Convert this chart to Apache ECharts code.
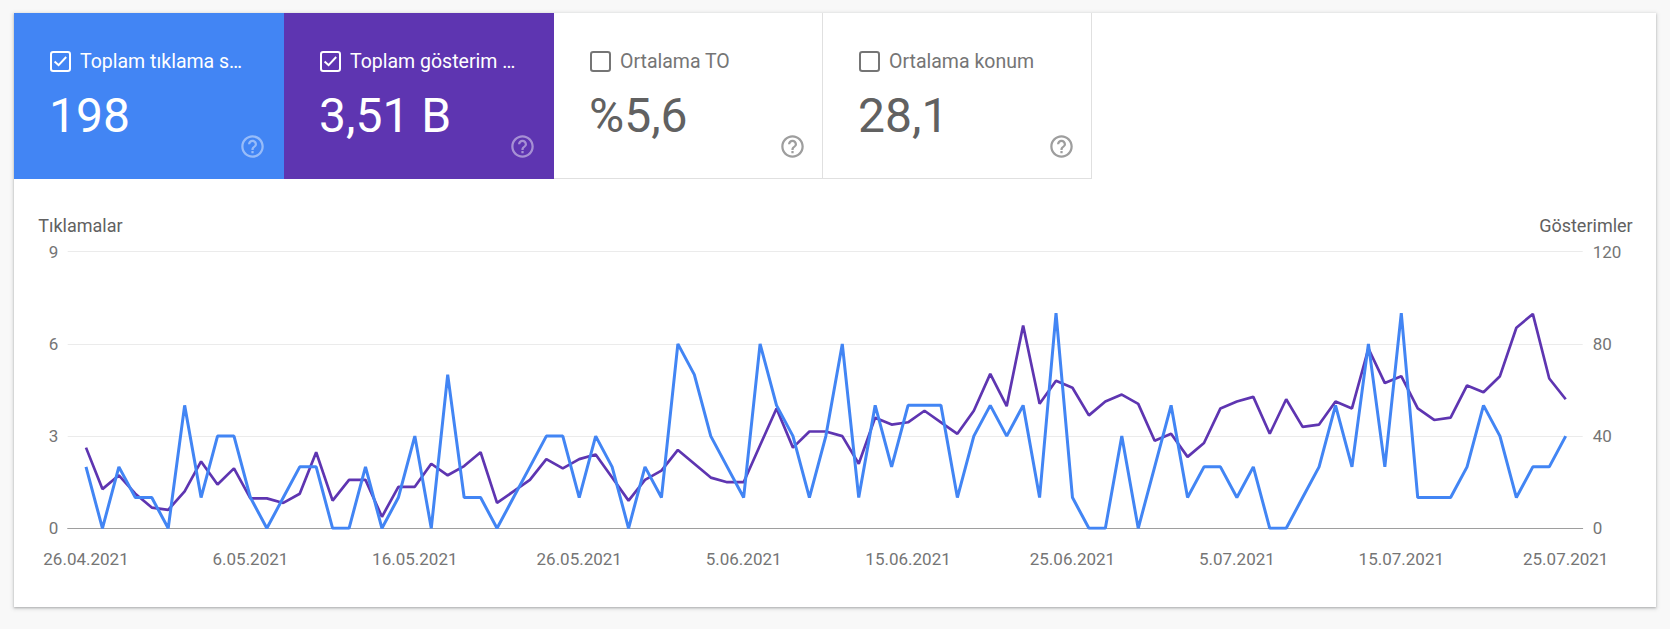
<!DOCTYPE html>
<html>
<head>
<meta charset="utf-8">
<script src="https://cdn.jsdelivr.net/npm/echarts@6/dist/echarts.min.js"></script>
<style>
  html, body { margin:0; padding:0; background:#f8f8f8; width:1670px; height:629px; overflow:hidden; font-family:Roboto, "Noto Sans", sans-serif; }
  #card { position:absolute; left:14px; top:13px; width:1642px; height:594px; background:#fff;
          box-shadow:0 1px 2px 0 rgba(60,64,67,.3), 0 1px 4px 1px rgba(60,64,67,.15); }
  .tile { position:absolute; top:13px; height:166px; box-sizing:border-box; }
  .tile .lbl { position:absolute; left:66px; top:39.25px; font-size:19.5px; line-height:19.5px; white-space:nowrap; }
  .tile .num { position:absolute; left:35px; top:78.5px; font-size:48px; line-height:48px; white-space:nowrap; }
  .tile svg.cb { position:absolute; left:36px; top:38px; width:21px; height:21px; }
  .tile svg.q { position:absolute; left:224.8px; top:120px; width:27px; height:27px; }
  #chart { position:absolute; left:0; top:0; width:1670px; height:629px; }
</style>
</head>
<body>
<div id="card"></div>
<div id="tiles"></div>
<div id="chart"></div>
<script>
// ---- data ----
const startDate = [2021, 3, 26]; // 26.04.2021 (month index 3 = April)
const dayCount = 91;
const tickIndices = [0, 10, 20, 30, 40, 50, 60, 70, 80, 90];
const clicks = [2,0,2,1,1,0,4,1,3,3,1,0,1,2,2,0,0,2,0,1,3,
                0,5,1,1,0,1,2,3,3,1,3,2,0,2,1,6,5,3,2,1,6,4,3,
                1,3,6,1,4,2,4,4,4,1,3,4,3,4,1,7,1,0,0,3,0,2,4,
                1,2,2,1,2,0,0,1,2,4,2,6,2,7,
                1,1,1,2,4,3,1,2,2,3];
const impressions = [35,17,23,15,9,8,16,29,19,26,13,13,11,15,33,12,21,21,5,18,18,
                     28,23,27,33,11,16,21,30,26,30,32,22,12,21,25,34,28,22,20,20,36,52,35,
                     42,42,40,28,48,45,46,51,46,41,51,67,53,88,54,64,61,49,55,58,54,38,41,
                     31,37,52,55,57,41,56,44,45,55,52,78,63,66,52,47,48,62,59,66,87,93,65,56];
const leftTicks = [0, 3, 6, 9];
const rightTicks = [0, 40, 80, 120];
const tileLabels = ['Toplam tıklama s…', 'Toplam gösterim …', 'Ortalama TO', 'Ortalama konum'];
const tileValues = ['198', '3,51 B', '%5,6', '28,1'];
const tileChecked = [true, true, false, false];
const axisNames = ['Tıklamalar', 'Gösterimler'];

// date labels
const dateLabels = [];
for (let i = 0; i < dayCount; i++) {
  const d = new Date(startDate[0], startDate[1], startDate[2] + i);
  dateLabels.push(d.getDate() + '.' + String(d.getMonth() + 1).padStart(2, '0') + '.' + d.getFullYear());
}

// ---- tiles ----
const tileStyle = [
  {bg:'#4285f4', fg:'#fff', q:'rgba(255,255,255,0.45)', box:'#fff'},
  {bg:'#5e35b1', fg:'#fff', q:'rgba(255,255,255,0.45)', box:'#fff'},
  {bg:'#fff', fg:'#757575', num:'#616161', q:'#9e9e9e', box:'#757575', border:true},
  {bg:'#fff', fg:'#757575', num:'#616161', q:'#9e9e9e', box:'#757575', border:true}
];
const tileLefts = [14, 284, 554, 823];
const tileWidths = [270, 270, 269, 269];
const tilesEl = document.getElementById('tiles');
tileLabels.forEach((t, i) => {
  const s = tileStyle[i];
  const div = document.createElement('div');
  div.className = 'tile';
  div.style.left = tileLefts[i] + 'px';
  div.style.width = tileWidths[i] + 'px';
  div.style.background = s.bg;
  if (s.border) { div.style.borderRight = '1px solid #e0e0e0'; div.style.borderBottom = '1px solid #e0e0e0'; }
  const check = tileChecked[i] ? '<polyline points="4.6,10.4 8.6,14.2 16.2,6" fill="none" stroke="' + s.box + '" stroke-width="2"/>' : '';
  div.innerHTML =
    '<svg class="cb" viewBox="0 0 21 21"><rect x="1" y="1" width="19" height="19" rx="2.2" fill="none" stroke="' + s.box + '" stroke-width="2"/>' + check + '</svg>' +
    '<div class="lbl" style="color:' + s.fg + '">' + t + '</div>' +
    '<div class="num" style="color:' + (s.num || s.fg) + '">' + tileValues[i] + '</div>' +
    '<svg class="q" viewBox="0 0 24 24"><path fill="' + s.q + '" d="M11 18h2v-2h-2v2zm1-16C6.48 2 2 6.480 2 12s4.48 10 10 10 10-4.48 10-10S17.52 2 12 2zm0 18c-4.41 0-8-3.59-8-8s3.59-8 8-8 8 3.59 8 8-3.59 8-8 8zm0-14c-2.21 0-4 1.79-4 4h2c0-1.1.9-2 2-2s2 .9 2 2c0 2-3 1.75-3 5h2c0-2.25 3-2.5 3-5 0-2.21-1.790-4-4-4z"/></svg>';
  tilesEl.appendChild(div);
});

// ---- chart ----
const chart = echarts.init(document.getElementById('chart'), null, {renderer:'svg', width:1670, height:629});
const labelColor = '#757575';
chart.setOption({
  backgroundColor: 'transparent',
  animation: false,
  textStyle: { fontFamily: 'Roboto' },
  grid: { left: 67.7, right: 87.3, top: 251.7, bottom: 100.7 },
  xAxis: {
    type: 'value', min: -1.113, max: 91.034,
    axisLine: { lineStyle: { color: '#9e9e9e', width: 1 } },
    axisTick: { show: false },
    splitLine: { show: false },
    axisLabel: { customValues: tickIndices, formatter: v => dateLabels[v], color: labelColor, fontSize: 17, margin: 22, fontFamily: 'Roboto' }
  },
  yAxis: [
    { type: 'value', min: leftTicks[0], max: leftTicks[leftTicks.length - 1], interval: leftTicks[1] - leftTicks[0],
      axisLine: { show: false }, axisTick: { show: false },
      splitLine: { lineStyle: { color: '#ebebeb', width: 1 } },
      axisLabel: { color: labelColor, fontSize: 17, margin: 9.5, fontFamily: 'Roboto' } },
    { type: 'value', position: 'right', min: rightTicks[0], max: rightTicks[rightTicks.length - 1], interval: rightTicks[1] - rightTicks[0],
      axisLine: { show: false }, axisTick: { show: false }, splitLine: { show: false },
      axisLabel: { color: labelColor, fontSize: 17, margin: 10, fontFamily: 'Roboto' } }
  ],
  graphic: [
    { type: 'text', left: 38.3, top: 216, style: { text: axisNames[0], fill: '#616161', fontSize: 18, fontFamily: 'Roboto' } },
    { type: 'text', right: 1670 - 1632.7, top: 216, style: { text: axisNames[1], fill: '#616161', fontSize: 18, fontFamily: 'Roboto' } }
  ],
  series: [
    { name: axisNames[1], type: 'line', yAxisIndex: 1, showSymbol: false, symbol: 'none',
      lineStyle: { color: '#5e35b1', width: 2.7 }, itemStyle: { color: '#5e35b1' },
      data: impressions.map((v, i) => [i, v]) },
    { name: axisNames[0], type: 'line', yAxisIndex: 0, showSymbol: false, symbol: 'none',
      lineStyle: { color: '#4285f4', width: 3 }, itemStyle: { color: '#4285f4' },
      data: clicks.map((v, i) => [i, v]) }
  ]
});
</script>
</body>
</html>
